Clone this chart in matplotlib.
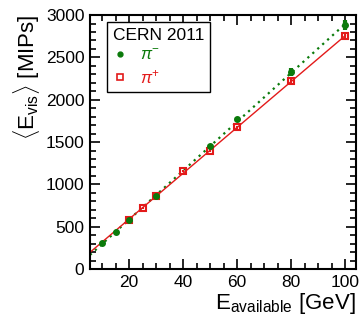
import numpy as np
import matplotlib
matplotlib.use('Agg')
import matplotlib.pyplot as plt
from matplotlib.ticker import MultipleLocator
from matplotlib.lines import Line2D

# CERN 2011 test beam, mean visible energy vs available energy
e_minus = np.array([10, 15, 20, 30, 50, 60, 80, 100])
vis_minus = np.array([304, 437, 579, 866, 1448, 1770, 2325, 2880])
err_minus = np.array([8, 8, 10, 14, 25, 30, 50, 60])

e_plus = np.array([20, 25, 30, 40, 50, 60, 80, 100])
vis_plus = np.array([579, 721, 863, 1158, 1398, 1676, 2220, 2750])
err_plus = np.array([8, 8, 10, 12, 16, 18, 24, 30])

green = '#0b7a0b'
red = '#e31a1a'

plt.rcParams['font.family'] = ['Liberation Sans', 'DejaVu Sans']
plt.rcParams['mathtext.fontset'] = 'custom'
plt.rcParams['mathtext.rm'] = 'Liberation Sans'
plt.rcParams['mathtext.it'] = 'Liberation Sans:italic'

fig = plt.figure(figsize=(3.63, 3.2), dpi=100)
ax = fig.add_axes([0.248, 0.159, 0.733, 0.794])

xmin, xmax = 5.5, 104
xx = np.array([xmin, 100])

pm = np.polyfit(e_minus, vis_minus, 1)
pp = np.polyfit(e_plus, vis_plus, 1)
ax.plot(xx, np.polyval(pm, xx), ls=(0, (1, 2)), color=green, lw=1.6)
ax.plot(xx, np.polyval(pp, xx), ls='-', color=red, lw=1.0)

ax.errorbar(e_plus, vis_plus, yerr=err_plus, fmt='s', ms=4.8, mfc='none',
            mec=red, mew=1.5, ecolor=red, elinewidth=1.5, capsize=0)
ax.errorbar(e_minus, vis_minus, yerr=err_minus, fmt='o', ms=4, color=green,
            ecolor=green, elinewidth=3, capsize=0)

ax.set_xlim(xmin, xmax)
ax.set_ylim(0, 3000)
ax.xaxis.set_major_locator(MultipleLocator(20))
ax.xaxis.set_minor_locator(MultipleLocator(5))
ax.yaxis.set_major_locator(MultipleLocator(500))
ax.yaxis.set_minor_locator(MultipleLocator(100))
ax.tick_params(which='both', direction='in', top=True, right=True,
               labelsize=12.5, width=1.2, pad=4)
ax.tick_params(which='major', length=7)
ax.tick_params(which='minor', length=4)
for s in ax.spines.values():
    s.set_linewidth(1.5)

handles = [Line2D([], [], ls='none', marker='o', ms=3.5, color=green),
           Line2D([], [], ls='none', marker='s', ms=4.5, mfc='none',
                  mec=red, mew=1.2)]
leg = ax.legend(handles, [r'$\pi^{-}$', r'$\pi^{+}$'], title='CERN 2011',
                loc='upper left', bbox_to_anchor=(0.064, 0.972),
                borderaxespad=0, fancybox=False, edgecolor='black',
                fontsize=12, handlelength=0.8, handletextpad=0.8,
                borderpad=0.35, labelspacing=0.3, framealpha=1)
leg.get_title().set_fontsize(12.5)
leg.get_frame().set_linewidth(1.0)
leg._legend_box.align = 'left'
for t, c in zip(leg.get_texts(), [green, red]):
    t.set_color(c)

ax.set_xlabel(r'E$_{\mathrm{available}}$ [GeV]', fontsize=16, loc='right',
              labelpad=1)
ax.set_ylabel(r'$\langle$E$_{\mathrm{vis}}\rangle$ [MIPs]', fontsize=16,
              loc='top', labelpad=3)

fig.savefig('out.png', dpi=100)
